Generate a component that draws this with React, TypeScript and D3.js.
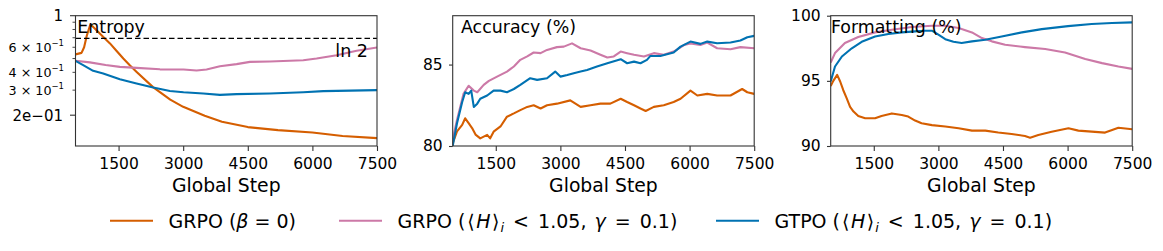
import React, { useEffect, useRef } from 'react';
import * as d3 from 'd3';

// colours of the three runs
const C_GRPO = '#d55e00';
const C_GRPO_H = '#cc79a7';
const C_GTPO = '#0072b2';

const stepTicks = [1500, 3000, 4500, 6000, 7500];
const stepDomain = [500, 7500];

// ---- Entropy panel (log y)
const entMajorTicks = [1, 0.2];
const entMajorLabels = ['1', '2e\u221201'];
const entMinorTicks = [0.9, 0.8, 0.7, 0.6, 0.5, 0.4, 0.3];
const entMinorLabelled = [0.6, 0.4, 0.3];

const entGrpoSteps = [500, 640, 700, 760, 840, 900, 1000, 1140, 1300, 1450, 1610, 1760, 1920, 2300, 2700, 3000, 3500, 3900, 4500, 5200, 6000, 6700, 7500];
const entGrpo = [0.535, 0.548, 0.6, 0.72, 0.86, 0.84, 0.784, 0.711, 0.639, 0.567, 0.5, 0.449, 0.403, 0.315, 0.257, 0.229, 0.198, 0.18, 0.165, 0.157, 0.151, 0.143, 0.138];

const entGrpoHSteps = [500, 833, 1200, 1530, 1917, 2460, 3009, 3311, 3543, 3853, 4240, 4550, 5014, 5788, 6098, 6563, 7027, 7500];
const entGrpoH = [0.482, 0.47, 0.45, 0.437, 0.43, 0.42, 0.419, 0.412, 0.419, 0.442, 0.457, 0.474, 0.477, 0.487, 0.5, 0.528, 0.567, 0.598];

const entGtpoSteps = [500, 678, 910, 1143, 1530, 1917, 2304, 2691, 3009, 3466, 3853, 4240, 5014, 5788, 6253, 7500];
const entGtpo = [0.482, 0.45, 0.41, 0.393, 0.358, 0.334, 0.313, 0.296, 0.29, 0.284, 0.278, 0.281, 0.284, 0.29, 0.295, 0.3];

const ln2 = Math.LN2;

// ---- Accuracy panel
const accTicks = [80, 85];
const accDomain = [80, 88];

const accGrpoSteps = [500, 600, 720, 790, 870, 950, 1030, 1140, 1300, 1370, 1450, 1610, 1760, 1920, 2070, 2230, 2380, 2540, 2690, 2920, 3230, 3470, 3700, 3930, 4160, 4400, 4550, 4710, 4860, 4980, 5170, 5400, 5630, 5790, 6020, 6180, 6410, 6640, 6950, 7220, 7340, 7500];
const accGrpo = [80.16, 80.9, 81.3, 81.7, 81.4, 81.1, 80.7, 80.47, 80.68, 80.47, 80.88, 81.2, 81.8, 82.0, 82.2, 82.4, 82.5, 82.3, 82.5, 82.6, 82.8, 82.4, 82.5, 82.6, 82.6, 82.9, 82.7, 82.5, 82.3, 82.15, 82.4, 82.5, 82.7, 82.9, 83.4, 83.1, 83.2, 83.1, 83.1, 83.5, 83.3, 83.2];

const accGrpoHSteps = [500, 600, 750, 870, 990, 1070, 1220, 1340, 1530, 1760, 1920, 2070, 2230, 2380, 2540, 2690, 2920, 3080, 3270, 3470, 3700, 3930, 4090, 4240, 4400, 4550, 4710, 4940, 5170, 5400, 5630, 5870, 6020, 6250, 6410, 6640, 6950, 7180, 7500];
const accGrpoH = [80.4, 81.6, 83.2, 83.7, 83.4, 83.3, 83.75, 84.0, 84.26, 84.57, 84.88, 85.29, 85.5, 85.74, 85.7, 85.9, 86.07, 86.1, 86.3, 86.0, 85.86, 85.6, 85.43, 85.5, 85.8, 85.7, 85.6, 85.5, 85.7, 85.6, 85.8, 86.2, 86.3, 86.2, 86.35, 86.0, 85.94, 86.07, 86.0];

const accGtpoSteps = [500, 600, 720, 790, 870, 930, 990, 1070, 1140, 1300, 1450, 1610, 1760, 1920, 2070, 2300, 2460, 2690, 2880, 3000, 3160, 3310, 3470, 3620, 3850, 4090, 4400, 4550, 4710, 4860, 5010, 5090, 5320, 5630, 5790, 6020, 6250, 6410, 6640, 6950, 7180, 7340, 7500];
const accGtpo = [80.0, 81.4, 82.7, 83.3, 83.2, 83.4, 82.4, 82.6, 82.9, 83.1, 83.4, 83.4, 83.3, 83.5, 83.75, 84.16, 84.06, 84.16, 84.57, 84.26, 84.36, 84.47, 84.57, 84.67, 84.88, 85.08, 85.33, 85.08, 85.18, 85.08, 85.29, 85.53, 85.53, 85.74, 86.1, 86.41, 86.27, 86.41, 86.31, 86.35, 86.48, 86.68, 86.76];

// ---- Formatting panel
const fmtTicks = [90, 95, 100];
const fmtDomain = [90, 100];

const fmtGrpoSteps = [500, 560, 650, 720, 790, 870, 950, 1030, 1140, 1300, 1530, 1680, 1920, 2150, 2300, 2460, 2610, 2850, 3160, 3470, 3780, 4090, 4390, 4700, 5010, 5130, 5320, 5630, 6020, 6250, 6560, 6870, 7180, 7500];
const fmtGrpo = [94.6, 95.0, 95.46, 94.95, 94.3, 93.67, 93.0, 92.64, 92.3, 92.13, 92.13, 92.3, 92.5, 92.38, 92.26, 91.95, 91.74, 91.6, 91.5, 91.36, 91.18, 91.18, 91.03, 90.92, 90.77, 90.64, 90.85, 91.1, 91.36, 91.18, 91.1, 91.03, 91.4, 91.28];

const fmtGrpoHSteps = [500, 600, 830, 1140, 1530, 1920, 2380, 2850, 3160, 3470, 3780, 4010, 4240, 4550, 5010, 5480, 5940, 6410, 6800, 7180, 7500];
const fmtGrpoH = [96.4, 97.13, 97.9, 98.36, 98.72, 98.92, 99.13, 99.23, 99.23, 99.05, 98.72, 98.28, 98.03, 97.77, 97.59, 97.44, 97.18, 96.67, 96.36, 96.1, 95.92];

const fmtGtpoSteps = [500, 600, 760, 990, 1220, 1530, 1840, 2150, 2460, 2690, 2850, 3000, 3160, 3350, 3540, 3780, 4090, 4470, 4940, 5400, 6010, 6560, 7030, 7500];
const fmtGtpo = [94.95, 96.1, 96.87, 97.5, 98.0, 98.4, 98.6, 98.72, 98.8, 98.85, 98.85, 98.54, 98.2, 98.0, 97.9, 98.03, 98.15, 98.4, 98.72, 98.97, 99.2, 99.36, 99.44, 99.49];

const FONT = 'DejaVu Sans, sans-serif';
const SPINE = '#333';

export default function App() {
  const ref = useRef<SVGSVGElement | null>(null);

  useEffect(() => {
    const svg = d3.select(ref.current);
    svg.selectAll('*').remove();

    const top = 15.7, bottom = 146;
    const panels = [
      { left: 75.5, title: 'Entropy', titleX: 1.8 },
      { left: 452.7, title: 'Accuracy (%)', titleX: 8.3 },
      { left: 830.7, title: 'Formatting (%)', titleX: 0.2 },
    ];
    const pw = 301.5;

    const series = [
      [
        { s: entGrpoSteps, v: entGrpo, c: C_GRPO },
        { s: entGrpoHSteps, v: entGrpoH, c: C_GRPO_H },
        { s: entGtpoSteps, v: entGtpo, c: C_GTPO },
      ],
      [
        { s: accGrpoSteps, v: accGrpo, c: C_GRPO },
        { s: accGrpoHSteps, v: accGrpoH, c: C_GRPO_H },
        { s: accGtpoSteps, v: accGtpo, c: C_GTPO },
      ],
      [
        { s: fmtGrpoSteps, v: fmtGrpo, c: C_GRPO },
        { s: fmtGrpoHSteps, v: fmtGrpoH, c: C_GRPO_H },
        { s: fmtGtpoSteps, v: fmtGtpo, c: C_GTPO },
      ],
    ];

    const yScales: any[] = [
      d3.scaleLog().domain([0.1215, 1]).range([bottom, top]),
      d3.scaleLinear().domain(accDomain).range([bottom, top]),
      d3.scaleLinear().domain(fmtDomain).range([bottom, top]),
    ];

    panels.forEach((p, i) => {
      const x = d3.scaleLinear().domain(stepDomain).range([p.left, p.left + pw]);
      const y = yScales[i];
      const g = svg.append('g');

      const clipId = 'clip' + i;
      g.append('clipPath').attr('id', clipId)
        .append('rect').attr('x', p.left).attr('y', top).attr('width', pw).attr('height', bottom - top);

      // lines
      const plot = g.append('g').attr('clip-path', `url(#${clipId})`);
      series[i].forEach(sr => {
        const pts = sr.s.map((st, k) => [st, sr.v[k]] as [number, number]);
        plot.append('path')
          .datum(pts)
          .attr('fill', 'none')
          .attr('stroke', sr.c)
          .attr('stroke-width', 2.1)
          .attr('stroke-linejoin', 'round')
          .attr('d', d3.line<[number, number]>().x(d => x(d[0])).y(d => y(d[1])));
      });

      if (i === 0) {
        plot.append('line')
          .attr('x1', p.left).attr('x2', p.left + pw)
          .attr('y1', y(ln2)).attr('y2', y(ln2))
          .attr('stroke', '#000').attr('stroke-width', 1.3).attr('stroke-dasharray', '5.5,3');
        g.append('text')
          .attr('x', p.left + pw - 9).attr('y', 56.7)
          .attr('text-anchor', 'end')
          .attr('font-family', FONT).attr('font-size', 17.5)
          .text('ln 2');
      }

      // x axis
      const xa = g.append('g')
        .attr('transform', `translate(0,${bottom})`)
        .call(d3.axisBottom(x).tickValues(stepTicks).tickSize(5).tickPadding(6.5).tickFormat(d3.format('d')));
      xa.select('.domain').remove();
      xa.selectAll('line').attr('stroke', SPINE).attr('stroke-width', 1.1);
      xa.selectAll('text').attr('font-family', FONT).attr('font-size', 15.5).attr('fill', '#000');

      g.append('text')
        .attr('x', p.left + pw / 2).attr('y', 185.7)
        .attr('dy', '0.36em')
        .attr('text-anchor', 'middle')
        .attr('font-family', FONT).attr('font-size', 18.8)
        .text('Global Step');

      // y axis
      if (i === 0) {
        const ya = g.append('g').attr('transform', `translate(${p.left},0)`);
        entMinorTicks.forEach(t => {
          ya.append('line').attr('x1', -3).attr('x2', 0).attr('y1', y(t)).attr('y2', y(t))
            .attr('stroke', SPINE).attr('stroke-width', 0.9);
        });
        entMajorTicks.forEach((t, k) => {
          ya.append('line').attr('x1', -5.5).attr('x2', 0).attr('y1', y(t)).attr('y2', y(t))
            .attr('stroke', SPINE).attr('stroke-width', 1.1);
          ya.append('text').attr('x', -12.5).attr('y', y(t)).attr('dy', '0.36em')
            .attr('text-anchor', 'end').attr('font-family', FONT).attr('font-size', 15)
            .text(entMajorLabels[k]);
        });
        entMinorLabelled.forEach(t => {
          const tx = ya.append('text').attr('x', -11.5).attr('y', y(t)).attr('dy', '0.36em')
            .attr('text-anchor', 'end').attr('font-family', FONT).attr('font-size', 12.7);
          tx.append('tspan').text(`${Math.round(t * 10)} \u00d7 10`);
          tx.append('tspan').attr('dy', -5.5).attr('font-size', 8.5).text('\u22121');
        });
      } else {
        const ya = g.append('g')
          .attr('transform', `translate(${p.left},0)`)
          .call(d3.axisLeft(y).tickValues(i === 1 ? accTicks : fmtTicks).tickSize(3.7).tickPadding(6.3).tickFormat(d3.format('d')));
        ya.select('.domain').remove();
        ya.selectAll('line').attr('stroke', SPINE).attr('stroke-width', 1.1);
        ya.selectAll('text').attr('font-family', FONT).attr('font-size', 15.5).attr('fill', '#000');
      }

      // frame
      g.append('rect')
        .attr('x', p.left).attr('y', top).attr('width', pw).attr('height', bottom - top)
        .attr('fill', 'none').attr('stroke', SPINE).attr('stroke-width', 1.1);

      // panel title
      g.append('text')
        .attr('x', p.left + p.titleX).attr('y', 32.7)
        .attr('font-family', FONT).attr('font-size', 17.4)
        .text(p.title);
    });

    // legend
    const legend = [
      { c: C_GRPO, x: 110, kind: 0 },
      { c: C_GRPO_H, x: 339, kind: 1 },
      { c: C_GTPO, x: 716, kind: 2 },
    ];
    const ly = 220.7;
    legend.forEach(l => {
      svg.append('line').attr('x1', l.x).attr('x2', l.x + 43).attr('y1', ly).attr('y2', ly)
        .attr('stroke', l.c).attr('stroke-width', 2);
      const t = svg.append('text').attr('x', l.x + 58.5).attr('y', ly).attr('dy', '0.36em')
        .attr('font-family', FONT).attr('font-size', 19);
      if (l.kind === 0) {
        t.append('tspan').text('GRPO (');
        t.append('tspan').attr('font-style', 'italic').text('\u03b2');
        t.append('tspan').text(' = 0)');
      } else {
        t.append('tspan').text(l.kind === 1 ? 'GRPO (' : 'GTPO (');
        t.append('tspan').attr('dx', 2).text('\u27e8');
        t.append('tspan').attr('dx', 1.5).attr('font-style', 'italic').text('H');
        t.append('tspan').attr('dx', 1.5).text('\u27e9');
        t.append('tspan').attr('dx', 1).attr('font-style', 'italic').attr('font-size', 13).attr('dy', 4).text('i');
        t.append('tspan').attr('dy', -4).attr('dx', 3).text(' <');
        t.append('tspan').attr('dx', 3).text(' 1.05, ');
        t.append('tspan').attr('dx', 2).attr('font-style', 'italic').text('\u03b3');
        t.append('tspan').attr('dx', 3).text(' =');
        t.append('tspan').attr('dx', 3).text(' 0.1)');
      }
    });
  }, []);

  return (
    <svg
      ref={ref}
      width={1163}
      height={251}
      style={{ position: 'absolute', left: 0, top: 0, background: '#fff' }}
    />
  );
}
